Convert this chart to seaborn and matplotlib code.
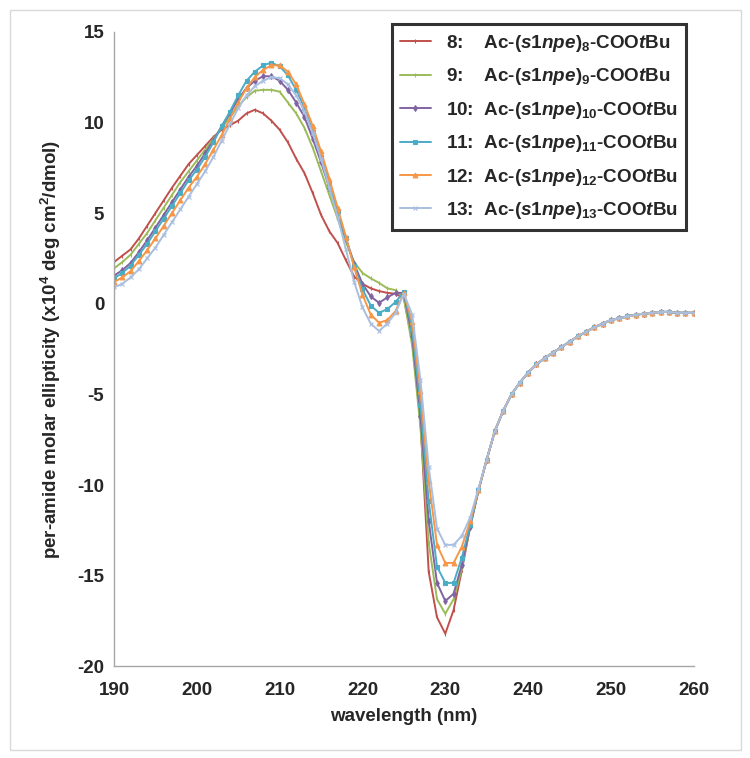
import numpy as np
import pandas as pd
import matplotlib
matplotlib.use("Agg")
import matplotlib.pyplot as plt
import seaborn as sns
from matplotlib.patches import Rectangle

# wavelength grid (nm)
wavelength = np.arange(190, 261)

# per-amide molar ellipticity (x10^4 deg cm2/dmol)
s8 = [2.3, 2.65, 3.0, 3.6, 4.3, 5.0, 5.7, 6.4, 7.05, 7.7,
      8.2, 8.7, 9.2, 9.6, 9.85, 10.1, 10.5, 10.7, 10.5, 10.1,
      9.6, 8.9, 8.0, 7.2, 6.1, 4.9, 4.0, 3.35, 2.4, 1.5,
      1.1, 0.85, 0.7, 0.6, 0.55, 0.3, -2.0, -6.5, -14.8, -17.3,
      -18.2, -16.9, -14.7, -12.3, -10.3, -8.6, -7.0, -5.9, -5.0, -4.35,
      -3.8, -3.35, -3.0, -2.7, -2.4, -2.1, -1.8, -1.55, -1.3, -1.1,
      -0.9, -0.8, -0.7, -0.6, -0.55, -0.5, -0.45, -0.45, -0.5, -0.5, -0.5]
s9 = [1.95, 2.3, 2.7, 3.3, 3.9, 4.6, 5.3, 6.0, 6.7, 7.3,
      7.9, 8.5, 9.1, 9.7, 10.3, 10.9, 11.4, 11.75, 11.8, 11.8,
      11.7, 11.1, 10.5, 9.7, 8.6, 7.3, 6.0, 4.7, 3.4, 2.3,
      1.7, 1.4, 1.15, 0.85, 0.75, 0.3, -2.3, -6.8, -13.2, -16.3,
      -17.1, -16.3, -14.6, -12.3, -10.3, -8.6, -7.0, -5.9, -5.0, -4.35,
      -3.8, -3.35, -3.0, -2.7, -2.4, -2.1, -1.8, -1.55, -1.3, -1.1,
      -0.9, -0.8, -0.7, -0.6, -0.55, -0.5, -0.45, -0.45, -0.5, -0.5, -0.5]
s10 = [1.55, 1.85, 2.25, 2.85, 3.5, 4.2, 4.9, 5.6, 6.3, 7.0,
       7.6, 8.3, 9.0, 9.8, 10.5, 11.3, 11.9, 12.3, 12.55, 12.55,
       12.3, 11.8, 11.1, 10.3, 9.1, 7.8, 6.4, 5.0, 3.6, 2.2,
       1.1, 0.4, 0.05, 0.35, 0.6, 0.6, -1.8, -6.2, -12.0, -15.4,
       -16.4, -16.0, -14.4, -12.3, -10.3, -8.6, -7.0, -5.9, -5.0, -4.35,
       -3.8, -3.35, -3.0, -2.7, -2.4, -2.1, -1.8, -1.55, -1.3, -1.1,
       -0.9, -0.8, -0.7, -0.6, -0.55, -0.5, -0.45, -0.45, -0.5, -0.5, -0.5]
s11 = [1.4, 1.7, 2.1, 2.7, 3.3, 4.0, 4.7, 5.4, 6.1, 6.8,
       7.4, 8.1, 8.9, 9.8, 10.6, 11.5, 12.3, 12.8, 13.15, 13.3,
       13.1, 12.6, 11.8, 10.8, 9.5, 8.1, 6.6, 5.1, 3.6, 2.1,
       0.8, -0.1, -0.5, -0.3, 0.1, 0.65, -1.4, -5.6, -10.9, -14.5,
       -15.4, -15.4, -14.0, -12.2, -10.3, -8.6, -7.0, -5.9, -5.0, -4.35,
       -3.8, -3.35, -3.0, -2.7, -2.4, -2.1, -1.8, -1.55, -1.3, -1.1,
       -0.9, -0.8, -0.7, -0.6, -0.55, -0.5, -0.45, -0.45, -0.5, -0.5, -0.5]
s12 = [1.2, 1.45, 1.8, 2.35, 2.95, 3.6, 4.3, 5.0, 5.7, 6.4,
       7.0, 7.7, 8.5, 9.3, 10.2, 11.1, 11.9, 12.5, 12.9, 13.15,
       13.15, 12.8, 12.1, 11.0, 9.8, 8.4, 6.9, 5.3, 3.7, 2.0,
       0.5, -0.6, -1.05, -0.9, -0.4, 0.6, -1.0, -4.8, -9.8, -13.3,
       -14.3, -14.3, -13.4, -12.0, -10.3, -8.6, -7.0, -5.9, -5.0, -4.35,
       -3.8, -3.35, -3.0, -2.7, -2.4, -2.1, -1.8, -1.55, -1.3, -1.1,
       -0.9, -0.8, -0.7, -0.6, -0.55, -0.5, -0.45, -0.45, -0.5, -0.5, -0.5]
s13 = [0.9, 1.1, 1.45, 1.9, 2.5, 3.1, 3.8, 4.5, 5.2, 5.9,
       6.6, 7.3, 8.1, 9.0, 9.9, 10.8, 11.5, 12.0, 12.3, 12.5,
       12.45, 12.1, 11.5, 10.6, 9.4, 8.0, 6.4, 4.8, 3.0, 1.2,
       -0.2, -1.1, -1.5, -1.1, -0.5, 0.55, -0.6, -4.2, -9.0, -12.4,
       -13.3, -13.3, -12.8, -11.8, -10.2, -8.6, -7.0, -5.9, -5.0, -4.35,
       -3.8, -3.35, -3.0, -2.7, -2.4, -2.1, -1.8, -1.55, -1.3, -1.1,
       -0.9, -0.8, -0.7, -0.6, -0.55, -0.5, -0.45, -0.45, -0.5, -0.5, -0.5]

numbers = ["8", "9", "10", "11", "12", "13"]
colors = ["#C0504D", "#9BBB59", "#8064A2", "#4BACC6", "#F79646", "#A9BFE0"]
markers = ["|", "|", "d", "s", "^", "x"]
msizes = [2.5, 2.5, 3, 3.5, 3.5, 3.5]

sns.set_style("white")
plt.rcParams["font.family"] = ["Liberation Sans", "DejaVu Sans"]
plt.rcParams["font.weight"] = "bold"
plt.rcParams["axes.unicode_minus"] = False
plt.rcParams["mathtext.fontset"] = "custom"
plt.rcParams["mathtext.rm"] = "Liberation Sans:bold"
plt.rcParams["mathtext.it"] = "Liberation Sans:bold:italic"
plt.rcParams["mathtext.bf"] = "Liberation Sans:bold"

fig = plt.figure(figsize=(7.5, 7.58), dpi=100)
ax = fig.add_axes([0.152, 0.121, 0.773, 0.837])

series = [s8, s9, s10, s11, s12, s13]
for num, vals, c, m, ms in zip(numbers, series, colors, markers, msizes):
    pad = "    " if len(num) == 1 else "  "
    label = (num + ":" + pad + "Ac-($\\it{s1npe}$)$_{" + num + "}$-COO$\\it{t}$Bu")
    sns.lineplot(x=wavelength, y=vals, ax=ax, color=c, lw=1.4, marker=m,
                 markersize=ms, markeredgecolor=c, markerfacecolor=c,
                 markeredgewidth=0.8, label=label)

ax.set_xlim(190, 260)
ax.set_ylim(-20, 15)
ax.set_xticks(range(190, 261, 10))
ax.set_yticks(range(-20, 16, 5))
for s in ["top", "right"]:
    ax.spines[s].set_visible(False)
for s in ["left", "bottom"]:
    ax.spines[s].set_color("#A6A6A6")
    ax.spines[s].set_linewidth(1.0)
ax.tick_params(axis="both", direction="out", length=4, width=1,
               color="#A6A6A6", labelsize=13.5)
ax.tick_params(axis="y", pad=3)
ax.tick_params(axis="x", pad=7)
for t in ax.get_xticklabels() + ax.get_yticklabels():
    t.set_fontweight("bold")

ax.set_xlabel("wavelength (nm)", fontsize=13.5, fontweight="bold", labelpad=7)
ax.set_ylabel("per-amide molar ellipticity (x10$^4$ deg cm$^2$/dmol)",
              fontsize=13.5, fontweight="bold", labelpad=10)

leg = ax.legend(loc="upper right", bbox_to_anchor=(0.987, 1.012),
                fontsize=13.6, frameon=True, fancybox=False,
                handlelength=1.6, handletextpad=0.8, labelspacing=0.66,
                borderpad=0.45, borderaxespad=0)
leg.get_frame().set_edgecolor("black")
leg.get_frame().set_linewidth(2.2)
for t in leg.get_texts():
    t.set_fontweight("bold")

fig.add_artist(Rectangle((0.013, 0.011), 0.975, 0.976, transform=fig.transFigure,
                         fill=False, edgecolor="#D9D9D9", lw=1))

fig.savefig("out.png", dpi=100)
